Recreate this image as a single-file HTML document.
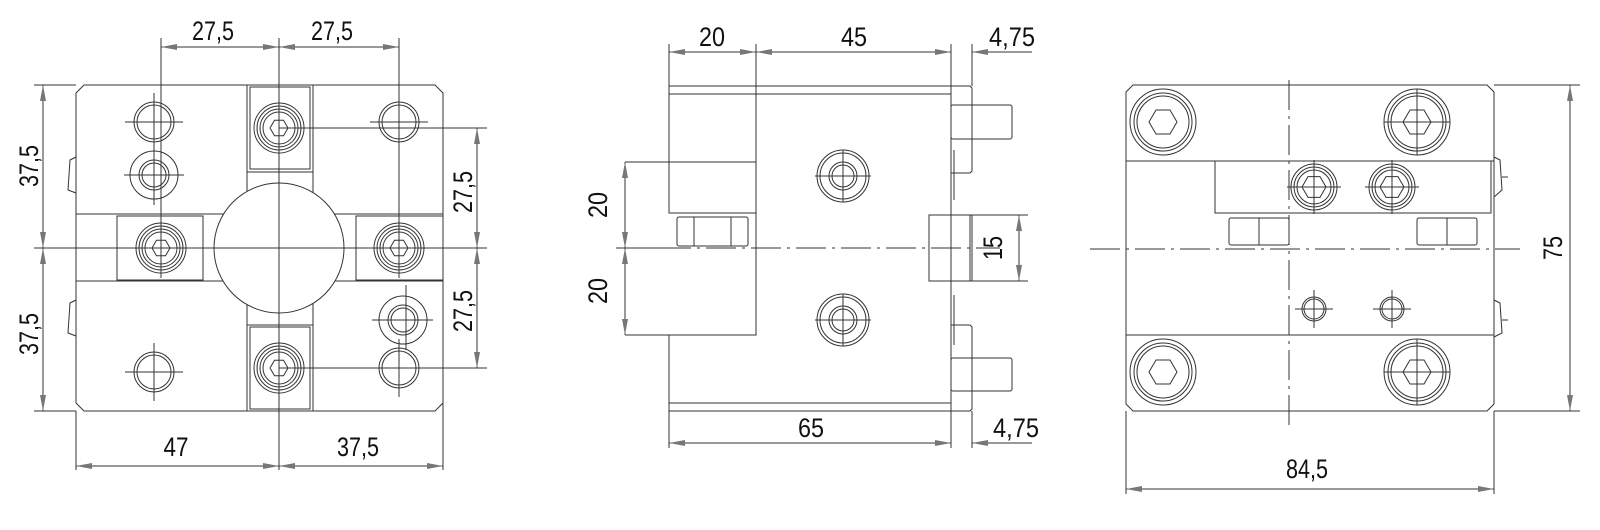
<!DOCTYPE html>
<html><head><meta charset="utf-8"><style>
html,body{margin:0;padding:0;background:#fff;}
svg{display:block}
text{font-family:"Liberation Sans",sans-serif;font-size:27px;fill:#111}
</style></head><body>
<svg width="1600" height="530" viewBox="0 0 1600 530" xmlns="http://www.w3.org/2000/svg">
<defs>
<g id="scr"><circle r="25"/><circle r="22"/><circle r="19"/><circle r="16"/><polygon points="9,0 4.5,7.8 -4.5,7.8 -9,0 -4.5,-7.8 4.5,-7.8"/></g>
<g id="hole"><circle r="20"/><circle r="17"/><line x1="-29" y1="0" x2="29" y2="0"/><line x1="0" y1="-29" x2="0" y2="29"/></g>
<g id="big"><circle r="33"/><circle r="29"/><circle r="26"/><polygon points="14,0 7,12 -7,12 -14,0 -7,-12 7,-12"/></g>
<g id="mid"><circle r="23"/><circle r="20"/><circle r="17"/><polygon points="12,0 6,10.4 -6,10.4 -12,0 -6,-10.4 6,-10.4"/><line x1="-27" y1="0" x2="27" y2="0"/><line x1="0" y1="-27" x2="0" y2="27"/></g>
<path id="ar" d="M0,0 L-16,-3 L-16,3 Z" fill="#777" stroke="none"/>
</defs>
<g fill="none" stroke="#333" stroke-width="1">
<!-- VIEW 1 -->
<path d="M84,85 L435,85 L443,93 L443,403 L435,411 L84,411 L76,403 L76,93 Z"/>
<line x1="76" y1="214" x2="443" y2="214"/><line x1="76" y1="281" x2="443" y2="281"/>
<rect x="247" y="85" width="66" height="87"/><rect x="250" y="87" width="60" height="82"/>
<rect x="247" y="325" width="66" height="86"/><rect x="250" y="327" width="60" height="82"/>
<line x1="247" y1="172" x2="247" y2="214"/><line x1="313" y1="172" x2="313" y2="214"/>
<line x1="247" y1="281" x2="247" y2="325"/><line x1="313" y1="281" x2="313" y2="325"/>
<rect x="117" y="216" width="86" height="64"/><rect x="356" y="216" width="87" height="64"/>
<circle cx="279" cy="248" r="65" fill="#fff"/>
<path d="M76,157 L70,160 L68,190 L76,193"/><path d="M76,300 L70,303 L68,333 L76,336"/>
<use href="#hole" x="154" y="122"/><use href="#hole" x="399" y="122"/><use href="#hole" x="154" y="372"/><use href="#hole" x="399" y="368"/>
<circle cx="154" cy="175" r="24"/><circle cx="154" cy="175" r="15"/><circle cx="154" cy="175" r="12"/>
<line x1="124" y1="175" x2="184" y2="175"/><line x1="154" y1="145" x2="154" y2="205"/>
<circle cx="403" cy="320" r="24"/><circle cx="403" cy="320" r="15"/><circle cx="403" cy="320" r="12"/>
<line x1="372" y1="320" x2="433" y2="320"/><line x1="406" y1="285" x2="406" y2="350"/>
<use href="#scr" x="161" y="248"/><use href="#scr" x="279" y="128"/><use href="#scr" x="399" y="248"/><use href="#scr" x="279" y="368"/>
<line x1="279" y1="38" x2="279" y2="470"/><line x1="34" y1="248" x2="487" y2="248"/>
<line x1="161" y1="38" x2="161" y2="278"/><line x1="399" y1="38" x2="399" y2="278"/>
<line x1="161" y1="47" x2="399" y2="47"/>
<line x1="34" y1="85" x2="76" y2="85"/><line x1="34" y1="411" x2="76" y2="411"/>
<line x1="43" y1="85" x2="43" y2="411"/>
<line x1="279" y1="128" x2="487" y2="128"/><line x1="279" y1="368" x2="487" y2="368"/>
<line x1="477" y1="128" x2="477" y2="368"/>
<line x1="76" y1="411" x2="76" y2="470"/><line x1="443" y1="403" x2="443" y2="470"/>
<line x1="76" y1="466" x2="443" y2="466"/>
<!-- VIEW 2 -->
<path d="M669,86 L951,86 L951,411 L669,411 L669,335 L756,335 L756,213 L669,213 Z"/>
<line x1="669" y1="94" x2="951" y2="94"/><line x1="669" y1="403" x2="951" y2="403"/>
<line x1="756" y1="86" x2="756" y2="213"/>
<line x1="625" y1="162" x2="756" y2="162"/><line x1="625" y1="335" x2="669" y2="335"/>
<path d="M951,86 L970,86 L972,88 L972,171 L970,173 L951,173"/>
<path d="M951,325 L970,325 L972,327 L972,409 L970,411 L951,411"/>
<rect x="951" y="105" width="61" height="34" rx="2"/><rect x="951" y="358" width="61" height="33" rx="2"/>
<rect x="929" y="215" width="43" height="66"/><line x1="970" y1="215" x2="970" y2="281"/>
<rect x="677" y="217" width="71" height="29" rx="2"/><line x1="694" y1="217" x2="694" y2="246"/><line x1="731" y1="217" x2="731" y2="246"/>
<line x1="954" y1="150" x2="954" y2="200"/><line x1="954" y1="295" x2="954" y2="345"/>
<g><circle cx="843" cy="176" r="26"/><circle cx="843" cy="176" r="23"/><circle cx="843" cy="176" r="14"/><circle cx="843" cy="176" r="11"/><line x1="815" y1="176" x2="871" y2="176"/><line x1="843" y1="150" x2="843" y2="202"/></g>
<g><circle cx="843" cy="320" r="26"/><circle cx="843" cy="320" r="23"/><circle cx="843" cy="320" r="14"/><circle cx="843" cy="320" r="11"/><line x1="815" y1="320" x2="871" y2="320"/><line x1="843" y1="294" x2="843" y2="346"/></g>
<line x1="616" y1="248" x2="1000" y2="248" stroke-dasharray="30,6,3,6"/>
<line x1="669" y1="44" x2="669" y2="86"/><line x1="756" y1="44" x2="756" y2="86"/>
<line x1="951" y1="44" x2="951" y2="86"/><line x1="972" y1="44" x2="972" y2="86"/>
<line x1="669" y1="52" x2="951" y2="52"/><line x1="972" y1="52" x2="1032" y2="52"/>
<line x1="669" y1="411" x2="669" y2="448"/><line x1="951" y1="411" x2="951" y2="448"/><line x1="972" y1="411" x2="972" y2="448"/>
<line x1="669" y1="443" x2="951" y2="443"/><line x1="972" y1="443" x2="1032" y2="443"/>
<line x1="625" y1="162" x2="625" y2="335"/><line x1="616" y1="248" x2="669" y2="248"/>
<line x1="972" y1="215" x2="1028" y2="215"/><line x1="972" y1="281" x2="1028" y2="281"/>
<line x1="1019" y1="215" x2="1019" y2="281"/>
<!-- VIEW 3 -->
<path d="M1133,85 L1487,85 L1494,92 L1494,404 L1487,411 L1133,411 L1126,404 L1126,92 Z"/>
<line x1="1126" y1="161" x2="1494" y2="161"/><line x1="1126" y1="335" x2="1494" y2="335"/>
<rect x="1215" y="161" width="276" height="52"/>
<path d="M1494,157 L1500,160 L1502,190 L1494,197"/><path d="M1494,300 L1500,303 L1502,333 L1494,337"/>
<line x1="1502" y1="177" x2="1508" y2="177"/><line x1="1502" y1="320" x2="1508" y2="320"/>
<rect x="1229" y="218" width="60" height="27" rx="2"/><line x1="1259" y1="218" x2="1259" y2="245"/>
<rect x="1417" y="218" width="60" height="27" rx="2"/><line x1="1447" y1="218" x2="1447" y2="245"/>
<use href="#big" x="1163" y="122"/><use href="#big" x="1417" y="122"/><use href="#big" x="1163" y="372"/><use href="#big" x="1417" y="372"/>
<line x1="1384" y1="122" x2="1450" y2="122"/><line x1="1417" y1="89" x2="1417" y2="155"/>
<line x1="1384" y1="372" x2="1450" y2="372"/><line x1="1417" y1="339" x2="1417" y2="405"/>
<use href="#mid" x="1314" y="187"/><use href="#mid" x="1392" y="187"/>
<circle cx="1314" cy="309" r="12"/><circle cx="1314" cy="309" r="10"/><line x1="1295" y1="309" x2="1333" y2="309"/><line x1="1314" y1="290" x2="1314" y2="328"/>
<circle cx="1392" cy="309" r="12"/><circle cx="1392" cy="309" r="10"/><line x1="1373" y1="309" x2="1411" y2="309"/><line x1="1392" y1="290" x2="1392" y2="328"/>
<line x1="1289" y1="80" x2="1289" y2="430" stroke-dasharray="30,6,3,6"/>
<line x1="1090" y1="249" x2="1520" y2="249" stroke-dasharray="30,6,3,6"/>
<line x1="1494" y1="85" x2="1580" y2="85"/><line x1="1494" y1="411" x2="1580" y2="411"/>
<line x1="1570" y1="85" x2="1570" y2="411"/>
<line x1="1126" y1="411" x2="1126" y2="494"/><line x1="1494" y1="411" x2="1494" y2="494"/>
<line x1="1126" y1="489" x2="1494" y2="489"/>
</g>
<!-- arrows -->
<use href="#ar" transform="translate(161,47) rotate(180)"/><use href="#ar" transform="translate(279,47)"/>
<use href="#ar" transform="translate(279,47) rotate(180)"/><use href="#ar" transform="translate(399,47)"/>
<use href="#ar" transform="translate(43,85) rotate(-90)"/><use href="#ar" transform="translate(43,248) rotate(90)"/>
<use href="#ar" transform="translate(43,248) rotate(-90)"/><use href="#ar" transform="translate(43,411) rotate(90)"/>
<use href="#ar" transform="translate(477,128) rotate(-90)"/><use href="#ar" transform="translate(477,248) rotate(90)"/>
<use href="#ar" transform="translate(477,248) rotate(-90)"/><use href="#ar" transform="translate(477,368) rotate(90)"/>
<use href="#ar" transform="translate(76,466) rotate(180)"/><use href="#ar" transform="translate(279,466)"/>
<use href="#ar" transform="translate(279,466) rotate(180)"/><use href="#ar" transform="translate(443,466)"/>
<use href="#ar" transform="translate(669,52) rotate(180)"/><use href="#ar" transform="translate(756,52)"/>
<use href="#ar" transform="translate(756,52) rotate(180)"/><use href="#ar" transform="translate(951,52)"/>
<use href="#ar" transform="translate(972,52) rotate(180)"/>
<use href="#ar" transform="translate(669,443) rotate(180)"/><use href="#ar" transform="translate(951,443)"/>
<use href="#ar" transform="translate(972,443) rotate(180)"/>
<use href="#ar" transform="translate(625,162) rotate(-90)"/><use href="#ar" transform="translate(625,248) rotate(90)"/>
<use href="#ar" transform="translate(625,248) rotate(-90)"/><use href="#ar" transform="translate(625,335) rotate(90)"/>
<use href="#ar" transform="translate(1019,215) rotate(-90)"/><use href="#ar" transform="translate(1019,281) rotate(90)"/>
<use href="#ar" transform="translate(1570,85) rotate(-90)"/><use href="#ar" transform="translate(1570,411) rotate(90)"/>
<use href="#ar" transform="translate(1126,489) rotate(180)"/><use href="#ar" transform="translate(1494,489)"/>
<!-- texts -->
<text x="213" y="40" text-anchor="middle" textLength="42" lengthAdjust="spacingAndGlyphs">27,5</text>
<text x="332" y="40" text-anchor="middle" textLength="42" lengthAdjust="spacingAndGlyphs">27,5</text>
<text x="176" y="456" text-anchor="middle" textLength="25" lengthAdjust="spacingAndGlyphs">47</text>
<text x="358" y="456" text-anchor="middle" textLength="42" lengthAdjust="spacingAndGlyphs">37,5</text>
<text transform="translate(38,166) rotate(-90)" text-anchor="middle" textLength="42" lengthAdjust="spacingAndGlyphs">37,5</text>
<text transform="translate(38,334) rotate(-90)" text-anchor="middle" textLength="42" lengthAdjust="spacingAndGlyphs">37,5</text>
<text transform="translate(472,192) rotate(-90)" text-anchor="middle" textLength="42" lengthAdjust="spacingAndGlyphs">27,5</text>
<text transform="translate(472,311) rotate(-90)" text-anchor="middle" textLength="42" lengthAdjust="spacingAndGlyphs">27,5</text>
<text x="712" y="46" text-anchor="middle" textLength="26" lengthAdjust="spacingAndGlyphs">20</text>
<text x="854" y="46" text-anchor="middle" textLength="26" lengthAdjust="spacingAndGlyphs">45</text>
<text x="1012" y="46" text-anchor="middle" textLength="46" lengthAdjust="spacingAndGlyphs">4,75</text>
<text x="811" y="437" text-anchor="middle" textLength="26" lengthAdjust="spacingAndGlyphs">65</text>
<text x="1016" y="437" text-anchor="middle" textLength="46" lengthAdjust="spacingAndGlyphs">4,75</text>
<text transform="translate(607,205) rotate(-90)" text-anchor="middle" textLength="26" lengthAdjust="spacingAndGlyphs">20</text>
<text transform="translate(607,291) rotate(-90)" text-anchor="middle" textLength="26" lengthAdjust="spacingAndGlyphs">20</text>
<text transform="translate(1002,248) rotate(-90)" text-anchor="middle" textLength="24" lengthAdjust="spacingAndGlyphs">15</text>
<text transform="translate(1562,248) rotate(-90)" text-anchor="middle" textLength="24" lengthAdjust="spacingAndGlyphs">75</text>
<text x="1307" y="478" text-anchor="middle" textLength="42" lengthAdjust="spacingAndGlyphs">84,5</text>
</svg>
</body></html>
